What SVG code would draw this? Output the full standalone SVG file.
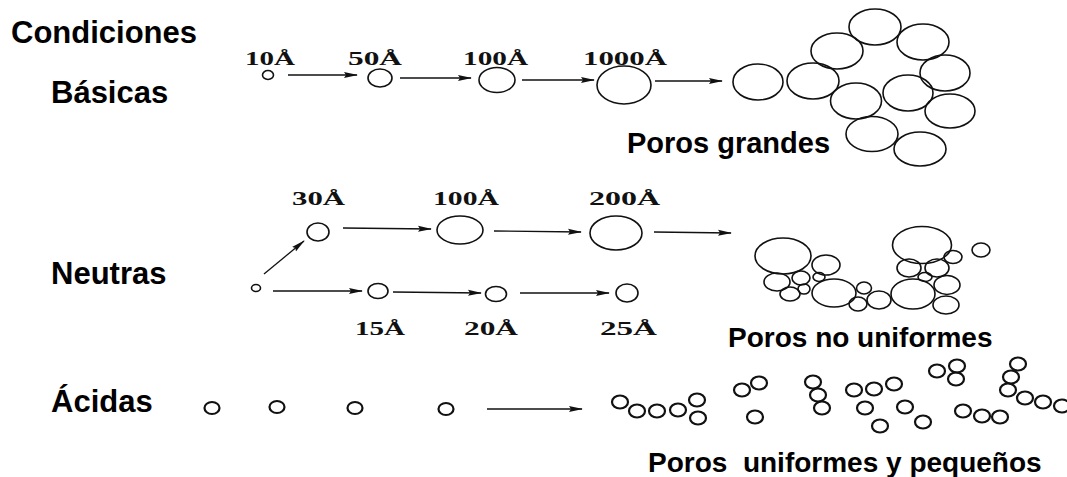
<svg xmlns="http://www.w3.org/2000/svg" width="1067" height="477" viewBox="0 0 1067 477">
  <style>
    .title { font-family: "Liberation Sans", Arial, sans-serif; font-weight: bold; fill: #000; }
    .size { font-family: "Liberation Serif", "Times New Roman", serif; font-weight: bold; font-size: 18px; fill: #111; }
    .p { fill: none; stroke: #111; stroke-width: 1.6; }
    .pa { fill: none; stroke: #111; stroke-width: 2.2; }
    .arrow { fill: none; stroke: #111; stroke-width: 1.3; marker-end: url(#head); }
  </style>
  <defs>
    <marker id="head" viewBox="0 0 14 8" markerUnits="userSpaceOnUse" markerWidth="14" markerHeight="8" refX="13" refY="4" orient="auto">
      <path d="M0,1 L14,4 L0,7 L2,4 z" fill="#111"/>
    </marker>
  </defs>

  <rect width="1067" height="477" fill="#fff"/>

  <!-- Row titles -->
  <g id="row-labels">
    <text class="title" x="11" y="43" font-size="31">Condiciones</text>
    <text class="title" x="51" y="103" font-size="31">Básicas</text>
    <text class="title" x="51" y="284" font-size="31">Neutras</text>
    <text class="title" x="51" y="412" font-size="31">Ácidas</text>
  </g>

  <!-- Basic conditions: growing particles -->
  <g id="b10">
    <text class="size" x="245" y="65" textLength="50" lengthAdjust="spacingAndGlyphs">10Å</text>
    <ellipse class="p" cx="268" cy="75" rx="5.5" ry="4.5"/>
  </g>
  <g id="b50">
    <text class="size" x="348" y="65" textLength="54" lengthAdjust="spacingAndGlyphs">50Å</text>
    <ellipse class="p" cx="380" cy="78" rx="12" ry="9"/>
  </g>
  <g id="b100">
    <text class="size" x="463" y="65" textLength="65" lengthAdjust="spacingAndGlyphs">100Å</text>
    <ellipse class="p" cx="497" cy="80" rx="18" ry="12.5"/>
  </g>
  <g id="b1000">
    <text class="size" x="583" y="65" textLength="84" lengthAdjust="spacingAndGlyphs">1000Å</text>
    <ellipse class="p" cx="624" cy="85" rx="27" ry="19"/>
  </g>
  <g id="b-cluster">
    <ellipse class="p" cx="758" cy="82" rx="25" ry="18"/>
    <ellipse class="p" cx="813" cy="81" rx="26" ry="18"/>
    <ellipse class="p" cx="837" cy="51" rx="26" ry="18"/>
    <ellipse class="p" cx="875" cy="27" rx="26" ry="18"/>
    <ellipse class="p" cx="923" cy="42" rx="26" ry="18"/>
    <ellipse class="p" cx="945" cy="73" rx="25" ry="18"/>
    <ellipse class="p" cx="856" cy="101" rx="25.5" ry="18"/>
    <ellipse class="p" cx="908" cy="93" rx="25" ry="18"/>
    <ellipse class="p" cx="950" cy="111" rx="25" ry="17"/>
    <ellipse class="p" cx="872" cy="134" rx="26" ry="17.5"/>
    <ellipse class="p" cx="920" cy="149" rx="26" ry="17"/>
    <text class="title" x="627" y="153" font-size="29">Poros grandes</text>
  </g>

  <!-- Neutral conditions: two growth paths -->
  <g id="n0">
    <ellipse class="p" cx="256" cy="288" rx="4.5" ry="3.5"/>
  </g>
  <g id="n30">
    <text class="size" x="292" y="205" textLength="53" lengthAdjust="spacingAndGlyphs">30Å</text>
    <ellipse class="p" cx="318" cy="232" rx="11" ry="9"/>
  </g>
  <g id="n100">
    <text class="size" x="433" y="205" textLength="66" lengthAdjust="spacingAndGlyphs">100Å</text>
    <ellipse class="p" cx="460" cy="230" rx="23" ry="14"/>
  </g>
  <g id="n200">
    <text class="size" x="589" y="205" textLength="71" lengthAdjust="spacingAndGlyphs">200Å</text>
    <ellipse class="p" cx="616" cy="233" rx="26" ry="17"/>
  </g>
  <g id="n15">
    <ellipse class="p" cx="378" cy="291" rx="10" ry="7.5"/>
    <text class="size" x="355" y="335" textLength="50" lengthAdjust="spacingAndGlyphs">15Å</text>
  </g>
  <g id="n20">
    <ellipse class="p" cx="496" cy="294" rx="10.5" ry="7.5"/>
    <text class="size" x="464" y="335" textLength="54" lengthAdjust="spacingAndGlyphs">20Å</text>
  </g>
  <g id="n25">
    <ellipse class="p" cx="627" cy="293" rx="11" ry="9"/>
    <text class="size" x="600" y="335" textLength="57" lengthAdjust="spacingAndGlyphs">25Å</text>
  </g>
  <g id="n-cluster">
    <ellipse class="p" cx="783" cy="256" rx="28" ry="18"/>
    <ellipse class="p" cx="826" cy="265" rx="14" ry="10"/>
    <ellipse class="p" cx="777" cy="282" rx="13" ry="9"/>
    <ellipse class="p" cx="801" cy="278" rx="9" ry="7"/>
    <ellipse class="p" cx="819" cy="277" rx="6" ry="4.5"/>
    <ellipse class="p" cx="790" cy="294" rx="10" ry="7"/>
    <ellipse class="p" cx="804" cy="289" rx="6" ry="5"/>
    <ellipse class="p" cx="834" cy="293" rx="22" ry="14"/>
    <ellipse class="p" cx="864" cy="288" rx="7.5" ry="6"/>
    <ellipse class="p" cx="858" cy="304" rx="9" ry="7"/>
    <ellipse class="p" cx="879" cy="300" rx="12" ry="9"/>
    <ellipse class="p" cx="913" cy="294" rx="22" ry="15"/>
    <ellipse class="p" cx="922" cy="245" rx="29.5" ry="18.5"/>
    <ellipse class="p" cx="909" cy="268" rx="12" ry="9"/>
    <ellipse class="p" cx="925" cy="277" rx="7" ry="4.5"/>
    <ellipse class="p" cx="937" cy="268" rx="12" ry="9"/>
    <ellipse class="p" cx="953" cy="257" rx="9" ry="6.5"/>
    <ellipse class="p" cx="947" cy="285" rx="13" ry="9.5"/>
    <ellipse class="p" cx="946" cy="305" rx="13" ry="9"/>
    <ellipse class="p" cx="981" cy="250" rx="9" ry="7"/>
    <text class="title" x="728" y="347" font-size="28">Poros no uniformes</text>
  </g>

  <!-- Acidic conditions: small particles -->
  <g id="a1"><ellipse class="pa" cx="212" cy="408" rx="7.5" ry="6"/></g>
  <g id="a2"><ellipse class="pa" cx="277" cy="407" rx="7.5" ry="6"/></g>
  <g id="a3"><ellipse class="pa" cx="355" cy="408" rx="7.5" ry="6"/></g>
  <g id="a4"><ellipse class="pa" cx="446" cy="409" rx="7.5" ry="6"/></g>
  <g id="a-cluster">
    <ellipse class="pa" cx="620" cy="402" rx="8" ry="6.5"/>
    <ellipse class="pa" cx="637" cy="411" rx="8" ry="6.5"/>
    <ellipse class="pa" cx="657" cy="411" rx="8" ry="6.5"/>
    <ellipse class="pa" cx="678" cy="410" rx="8" ry="6.5"/>
    <ellipse class="pa" cx="697" cy="400" rx="8" ry="6.5"/>
    <ellipse class="pa" cx="698" cy="418" rx="8" ry="6.5"/>
    <ellipse class="pa" cx="742" cy="390" rx="8" ry="6.5"/>
    <ellipse class="pa" cx="759" cy="383" rx="8" ry="6.5"/>
    <ellipse class="pa" cx="755" cy="417" rx="8" ry="6.5"/>
    <ellipse class="pa" cx="813" cy="382" rx="8" ry="6.5"/>
    <ellipse class="pa" cx="818" cy="395" rx="8" ry="6.5"/>
    <ellipse class="pa" cx="822" cy="408" rx="8" ry="6.5"/>
    <ellipse class="pa" cx="854" cy="390" rx="8" ry="6.5"/>
    <ellipse class="pa" cx="874" cy="389" rx="8" ry="6.5"/>
    <ellipse class="pa" cx="894" cy="384" rx="8" ry="6.5"/>
    <ellipse class="pa" cx="865" cy="408" rx="8" ry="6.5"/>
    <ellipse class="pa" cx="880" cy="426" rx="8" ry="6.5"/>
    <ellipse class="pa" cx="905" cy="407" rx="8" ry="6.5"/>
    <ellipse class="pa" cx="923" cy="422" rx="8" ry="6.5"/>
    <ellipse class="pa" cx="937" cy="371" rx="8" ry="6.5"/>
    <ellipse class="pa" cx="957" cy="366" rx="8" ry="6.5"/>
    <ellipse class="pa" cx="956" cy="379" rx="8" ry="6.5"/>
    <ellipse class="pa" cx="963" cy="411" rx="8" ry="6.5"/>
    <ellipse class="pa" cx="982" cy="416" rx="8" ry="6.5"/>
    <ellipse class="pa" cx="1000" cy="417" rx="8" ry="6.5"/>
    <ellipse class="pa" cx="1018" cy="364" rx="8" ry="6.5"/>
    <ellipse class="pa" cx="1011" cy="377" rx="8" ry="6.5"/>
    <ellipse class="pa" cx="1008" cy="390" rx="8" ry="6.5"/>
    <ellipse class="pa" cx="1025" cy="398" rx="8" ry="6.5"/>
    <ellipse class="pa" cx="1043" cy="402" rx="8" ry="6.5"/>
    <ellipse class="pa" cx="1062" cy="406" rx="8" ry="6.5"/>
    <text class="title" x="648" y="472" font-size="28" xml:space="preserve">Poros  uniformes y pequeños</text>
  </g>

  <!-- Connectors -->
  <g id="connectors">
    <line class="arrow" x1="288" y1="75" x2="357" y2="75"/>
    <line class="arrow" x1="400" y1="78" x2="471" y2="78"/>
    <line class="arrow" x1="522" y1="80" x2="594" y2="80"/>
    <line class="arrow" x1="655" y1="81" x2="722" y2="81"/>

    <line class="arrow" x1="264" y1="274" x2="304" y2="241"/>
    <line class="arrow" x1="343" y1="228" x2="431" y2="229"/>
    <line class="arrow" x1="494" y1="231" x2="581" y2="232"/>
    <line class="arrow" x1="654" y1="232" x2="731" y2="233"/>
    <line class="arrow" x1="273" y1="291" x2="362" y2="291"/>
    <line class="arrow" x1="393" y1="292" x2="481" y2="293"/>
    <line class="arrow" x1="520" y1="293" x2="609" y2="293"/>

    <line class="arrow" x1="487" y1="409" x2="582" y2="409"/>
  </g>
</svg>
